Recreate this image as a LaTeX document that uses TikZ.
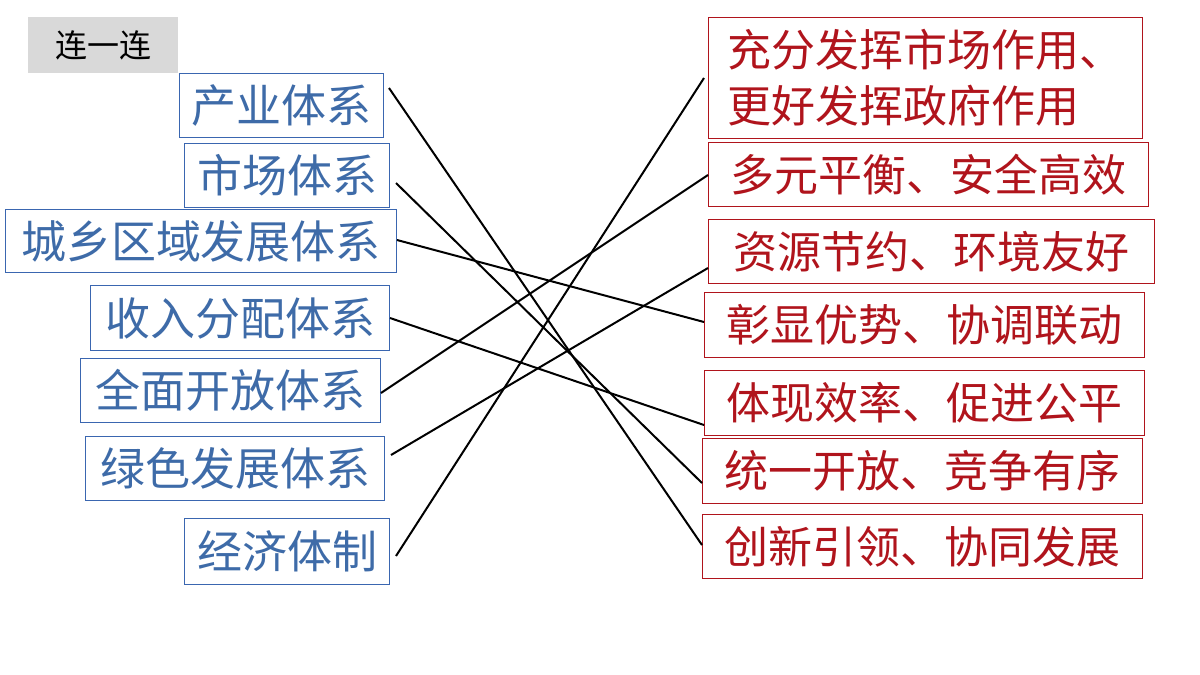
\documentclass[tikz,border=0pt]{standalone}
\usepackage{fontspec}
\setmainfont{Noto Sans CJK SC}
\definecolor{lb}{HTML}{3A66B0}
\definecolor{lbt}{HTML}{3E6BA8}
\definecolor{dr}{HTML}{B0141C}
\begin{document}
\begin{tikzpicture}[x=1pt,y=-1pt,
 lbox/.style={draw=lb,line width=1pt,text=lbt,font=\fontsize{45}{50}\selectfont,inner sep=0pt,anchor=north west},
 rbox/.style={draw=dr,line width=1pt,text=dr,font=\fontsize{44}{56}\selectfont,inner sep=0pt,anchor=north west,align=left},
 link/.style={line width=2pt,black}]
\useasboundingbox (0,0) rectangle (1200,675);
\node[fill=black!15,anchor=north west,minimum width=150pt,minimum height=56pt,font=\fontsize{32}{36}\selectfont,inner sep=0pt] (t) at (28,17) {连一连};
\newcommand{\bx}[7]{\node[#1,minimum width=#4pt,minimum height=#5pt] (#6) at (#2,#3) {#7};}
\bx{lbox}{179}{73}{204}{64}{l1}{产业体系}
\bx{lbox}{184}{143}{205}{64}{l2}{市场体系}
\bx{lbox}{5}{209}{391}{63}{l3}{城乡区域发展体系}
\bx{lbox}{90}{285}{299}{65}{l4}{收入分配体系}
\bx{lbox}{80}{358}{300}{64}{l5}{全面开放体系}
\bx{lbox}{85}{436}{299}{64}{l6}{绿色发展体系}
\bx{lbox}{184}{518}{205}{66}{l7}{经济体制}
\bx{rbox}{708}{17}{434}{121}{r1}{充分发挥市场作用、\\更好发挥政府作用}
\bx{rbox}{708}{142}{440}{64}{r2}{多元平衡、安全高效}
\bx{rbox}{708}{219}{446}{64}{r3}{资源节约、环境友好}
\bx{rbox}{704}{292}{440}{65}{r4}{彰显优势、协调联动}
\bx{rbox}{704}{370}{440}{65}{r5}{体现效率、促进公平}
\bx{rbox}{702}{438}{440}{65}{r6}{统一开放、竞争有序}
\bx{rbox}{702}{514}{440}{64}{r7}{创新引领、协同发展}
\draw[link] ([shift={(5,15)}]l1.north east) -- ([shift={(0,31)}]r7.north west);
\draw[link] ([shift={(6,40)}]l2.north east) -- ([shift={(0,45)}]r6.north west);
\draw[link] ([shift={(0,31)}]l3.north east) -- ([shift={(0,30)}]r4.north west);
\draw[link] ([shift={(0,33)}]l4.north east) -- ([shift={(0,55)}]r5.north west);
\draw[link] ([shift={(0,35)}]l5.north east) -- ([shift={(0,33)}]r2.north west);
\draw[link] ([shift={(6,19)}]l6.north east) -- ([shift={(0,49)}]r3.north west);
\draw[link] ([shift={(6,38)}]l7.north east) -- ([shift={(-4,61)}]r1.north west);
\end{tikzpicture}
\end{document}
